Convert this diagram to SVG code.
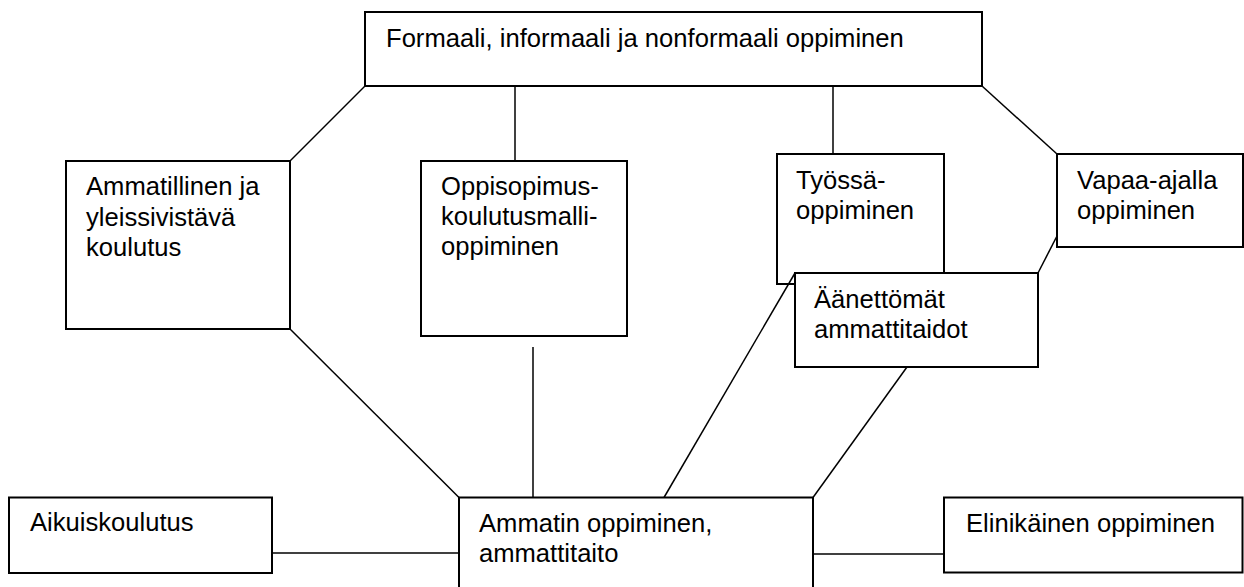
<svg xmlns="http://www.w3.org/2000/svg" width="1244" height="587" viewBox="0 0 1244 587">
<style>
.box{fill:#fff;stroke:#000;stroke-width:2}
.open{fill:none;stroke:#000;stroke-width:2}
.t{font-family:"Liberation Sans",Arial,sans-serif;font-size:25.6px;fill:#000}
.c{stroke:#000;stroke-width:1.5;fill:none}
</style>
<rect width="1244" height="587" fill="#fff"/>
<g id="n-top"><rect class="box" x="365" y="12" width="617" height="74"/><text class="t" x="386" y="47">Formaali, informaali ja nonformaali oppiminen</text></g>
<g id="n-ammatillinen"><rect class="box" x="66" y="161" width="224" height="168"/><text class="t" x="86" y="195">Ammatillinen ja</text><text class="t" x="86" y="225.5">yleissivistävä</text><text class="t" x="86" y="255.5">koulutus</text></g>
<g id="n-oppisopimus"><rect class="box" x="421" y="161" width="206" height="175"/><text class="t" x="441" y="195">Oppisopimus-</text><text class="t" x="441" y="225">koulutusmalli-</text><text class="t" x="441" y="255">oppiminen</text></g>
<g id="n-tyossa"><rect class="open" x="777" y="154" width="167" height="130"/><text class="t" x="796" y="189">Työssä-</text><text class="t" x="796" y="219">oppiminen</text></g>
<g id="n-vapaa"><rect class="box" x="1057" y="154" width="186" height="93"/><text class="t" x="1077" y="189">Vapaa-ajalla</text><text class="t" x="1077" y="218.5">oppiminen</text></g>
<g id="n-aanettomat"><rect class="box" x="795" y="273" width="243" height="94"/><text class="t" x="814" y="307.5">Äänettömät</text><text class="t" x="814" y="337.5">ammattitaidot</text></g>
<g id="n-aikuis"><rect class="box" x="9" y="497.5" width="263" height="75.5"/><text class="t" x="30" y="531">Aikuiskoulutus</text></g>
<g id="n-ammatin"><rect class="box" x="459" y="497.5" width="354" height="100"/><text class="t" x="479" y="532">Ammatin oppiminen,</text><text class="t" x="479" y="562">ammattitaito</text></g>
<g id="n-elinikainen"><rect class="box" x="944" y="497.5" width="298.5" height="75"/><text class="t" x="966" y="532">Elinikäinen oppiminen</text></g>
<g id="connectors">
<line class="c" x1="365" y1="86" x2="290" y2="161"/>
<line class="c" x1="515" y1="86" x2="515" y2="161"/>
<line class="c" x1="833" y1="86" x2="833" y2="154"/>
<line class="c" x1="982" y1="86" x2="1057" y2="154"/>
<line class="c" x1="290" y1="329" x2="459" y2="497.5"/>
<line class="c" x1="533" y1="347" x2="533" y2="497.5"/>
<line class="c" x1="664" y1="497.5" x2="795" y2="273"/>
<line class="c" x1="907" y1="367" x2="813" y2="497.5"/>
<line class="c" x1="1057" y1="236" x2="1038" y2="273"/>
<line class="c" x1="272" y1="553" x2="459" y2="553"/>
<line class="c" x1="813" y1="554" x2="944" y2="554"/>
</g>
</svg>
